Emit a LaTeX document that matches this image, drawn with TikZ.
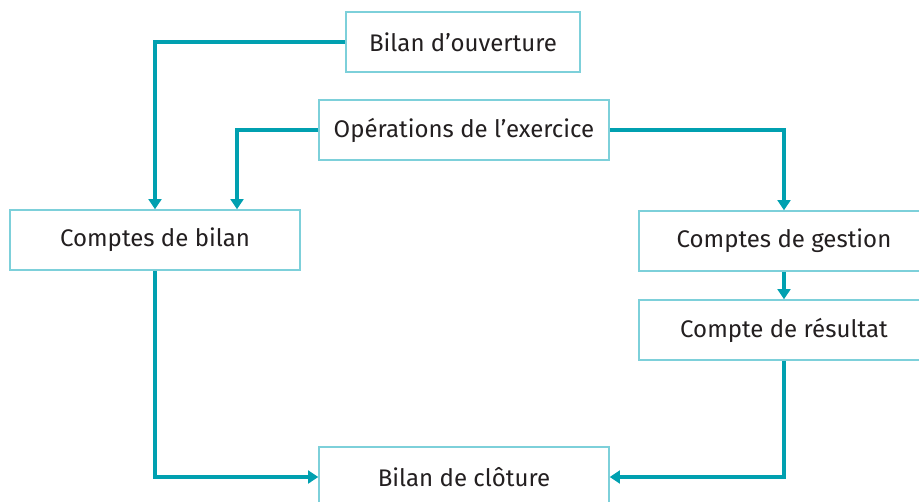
\documentclass[tikz,border=0pt]{standalone}
\usepackage{fontspec}
\setmainfont{Fira Sans}
\usepackage{tikz}
\usetikzlibrary{positioning, arrows.meta}
\definecolor{FlowTeal}{RGB}{0,160,176}
\definecolor{BoxTeal}{RGB}{125,208,218}
\definecolor{InkGray}{RGB}{35,31,32}
\tikzset{
  box/.style={draw=BoxTeal, line width=1.3pt, fill=white, minimum width=8.7cm,
    minimum height=1.8cm, align=center, text=InkGray, font=\fontsize{20.5}{24}\selectfont},
  flow/.style={draw=FlowTeal, line width=2.6pt, -{Triangle[length=0.3cm,width=0.38cm]}}
}

\begin{document}
\begin{tikzpicture}[x=0.03cm, y=-0.03cm]
        \useasboundingbox (0,0) rectangle (919,502);
        \node[box, minimum width=7.02cm] (ouv) at (463,42) {Bilan d’ouverture};
        \node[box] (ops) at (464,130) {Opérations de l’exercice};
        \node[box] (bil) at (155,240) {Comptes de bilan};
        \node[box] (ges) at (784,241) {Comptes de gestion};
        \node[box] (res) at (784,330) {Compte de résultat};
        \node[box] (clo) at (464,477) {Bilan de clôture};
        \draw[flow] (ouv.west) -| (bil.north);
        \draw[flow] (ops.west) -| ([xshift=2.46cm]bil.north);
        \draw[flow] (ops.east) -| (ges.north);
        \draw[flow] (ges) -- (res);
        \draw[flow] (bil.south) |- (clo.west);
        \draw[flow] (res.south) |- (clo.east);
      \end{tikzpicture}
\end{document}
